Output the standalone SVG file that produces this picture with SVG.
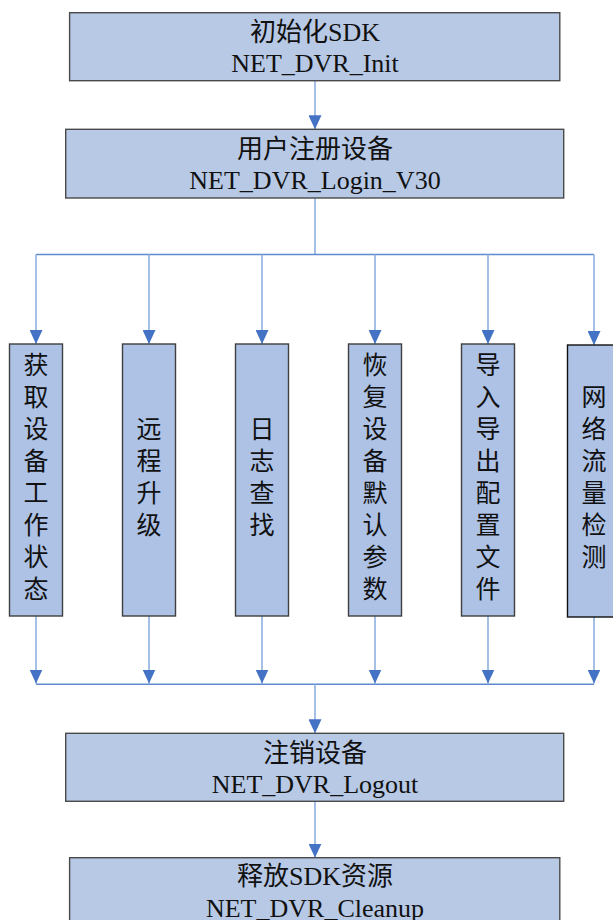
<svg xmlns="http://www.w3.org/2000/svg" width="613" height="920" viewBox="0 0 613 920">
<style>
.main{fill:#b7c9e5;stroke:#4a4a4a;stroke-width:1.4}
.col{fill:#adc2e5;stroke:#3f3f3f;stroke-width:1.4}
.t{font-family:"Liberation Serif","Noto Sans CJK SC",serif;font-size:26px;fill:#111;text-anchor:middle}
.v{font-family:"Noto Sans CJK SC",sans-serif;font-size:25px;fill:#111;text-anchor:middle}
.ln{fill:none;stroke:#8fb0e0;stroke-width:1.6}
.hl{fill:none;stroke:#5f8ad0;stroke-width:1.4}
</style>
<defs>
<marker id="ah" viewBox="0 0 14 13" refX="14" refY="6.5" markerWidth="14" markerHeight="13" markerUnits="userSpaceOnUse" orient="auto">
<path d="M0,0 L14,6.5 L0,13 Z" fill="#4472c4"/>
</marker>
</defs>
<rect width="613" height="920" fill="#fff"/>
<g id="connectors">
<line class="ln" x1="315" y1="81" x2="315" y2="129.3" marker-end="url(#ah)"/>
<line class="ln" x1="315" y1="198" x2="315" y2="254.5"/>
<line class="hl" x1="36" y1="254.5" x2="594" y2="254.5"/>
<line class="ln" x1="36" y1="254.5" x2="36" y2="344" marker-end="url(#ah)"/>
<line class="ln" x1="149" y1="254.5" x2="149" y2="344" marker-end="url(#ah)"/>
<line class="ln" x1="262" y1="254.5" x2="262" y2="344" marker-end="url(#ah)"/>
<line class="ln" x1="375" y1="254.5" x2="375" y2="344" marker-end="url(#ah)"/>
<line class="ln" x1="488" y1="254.5" x2="488" y2="344" marker-end="url(#ah)"/>
<line class="ln" x1="594" y1="254.5" x2="594" y2="345" marker-end="url(#ah)"/>
<line class="ln" x1="36" y1="616" x2="36" y2="683.5" marker-end="url(#ah)"/>
<line class="ln" x1="149" y1="616" x2="149" y2="683.5" marker-end="url(#ah)"/>
<line class="ln" x1="262" y1="616" x2="262" y2="683.5" marker-end="url(#ah)"/>
<line class="ln" x1="375" y1="616" x2="375" y2="683.5" marker-end="url(#ah)"/>
<line class="ln" x1="488" y1="616" x2="488" y2="683.5" marker-end="url(#ah)"/>
<line class="ln" x1="594" y1="617" x2="594" y2="683.5" marker-end="url(#ah)"/>
<line class="hl" x1="36" y1="684.3" x2="594" y2="684.3"/>
<line class="ln" x1="315" y1="684.3" x2="315" y2="733.3" marker-end="url(#ah)"/>
<line class="ln" x1="315" y1="801.5" x2="315" y2="857.7" marker-end="url(#ah)"/>
</g>
<g id="init">
<rect class="main" x="69.6" y="12.7" width="490.2" height="68"/>
<text class="t" x="315" y="40.7">初始化SDK</text>
<text class="t" x="315" y="71.7">NET_DVR_Init</text>
</g>
<g id="login">
<rect class="main" x="65.7" y="129.3" width="498" height="68.7"/>
<text class="t" x="315" y="157.5">用户注册设备</text>
<text class="t" x="315" y="188.5">NET_DVR_Login_V30</text>
</g>
<g id="status">
<rect class="col" x="9.5" y="344" width="53" height="272"/>
<text class="v" x="36" y="374"><tspan x="36">获</tspan><tspan x="36" dy="32">取</tspan><tspan x="36" dy="32">设</tspan><tspan x="36" dy="32">备</tspan><tspan x="36" dy="32">工</tspan><tspan x="36" dy="32">作</tspan><tspan x="36" dy="32">状</tspan><tspan x="36" dy="32">态</tspan></text>
</g>
<g id="upgrade">
<rect class="col" x="122.5" y="344" width="53" height="272"/>
<text class="v" x="149" y="438"><tspan x="149">远</tspan><tspan x="149" dy="32">程</tspan><tspan x="149" dy="32">升</tspan><tspan x="149" dy="32">级</tspan></text>
</g>
<g id="log">
<rect class="col" x="235.5" y="344" width="53" height="272"/>
<text class="v" x="262" y="438"><tspan x="262">日</tspan><tspan x="262" dy="32">志</tspan><tspan x="262" dy="32">查</tspan><tspan x="262" dy="32">找</tspan></text>
</g>
<g id="restore">
<rect class="col" x="348.5" y="344" width="53" height="272"/>
<text class="v" x="375" y="374"><tspan x="375">恢</tspan><tspan x="375" dy="32">复</tspan><tspan x="375" dy="32">设</tspan><tspan x="375" dy="32">备</tspan><tspan x="375" dy="32">默</tspan><tspan x="375" dy="32">认</tspan><tspan x="375" dy="32">参</tspan><tspan x="375" dy="32">数</tspan></text>
</g>
<g id="config">
<rect class="col" x="461.5" y="344" width="53" height="272"/>
<text class="v" x="488" y="374"><tspan x="488">导</tspan><tspan x="488" dy="32">入</tspan><tspan x="488" dy="32">导</tspan><tspan x="488" dy="32">出</tspan><tspan x="488" dy="32">配</tspan><tspan x="488" dy="32">置</tspan><tspan x="488" dy="32">文</tspan><tspan x="488" dy="32">件</tspan></text>
</g>
<g id="traffic">
<rect class="col" x="567.5" y="345" width="53" height="272" style="stroke:#111"/>
<text class="v" x="594" y="406"><tspan x="594">网</tspan><tspan x="594" dy="32">络</tspan><tspan x="594" dy="32">流</tspan><tspan x="594" dy="32">量</tspan><tspan x="594" dy="32">检</tspan><tspan x="594" dy="32">测</tspan></text>
</g>
<g id="logout">
<rect class="main" x="65.7" y="733.3" width="498" height="68"/>
<text class="t" x="315" y="761.5">注销设备</text>
<text class="t" x="315" y="792.7">NET_DVR_Logout</text>
</g>
<g id="cleanup">
<rect class="main" x="69.6" y="857.7" width="490.2" height="80"/>
<text class="t" x="315" y="885">释放SDK资源</text>
<text class="t" x="315" y="916.5">NET_DVR_Cleanup</text>
</g>
</svg>
